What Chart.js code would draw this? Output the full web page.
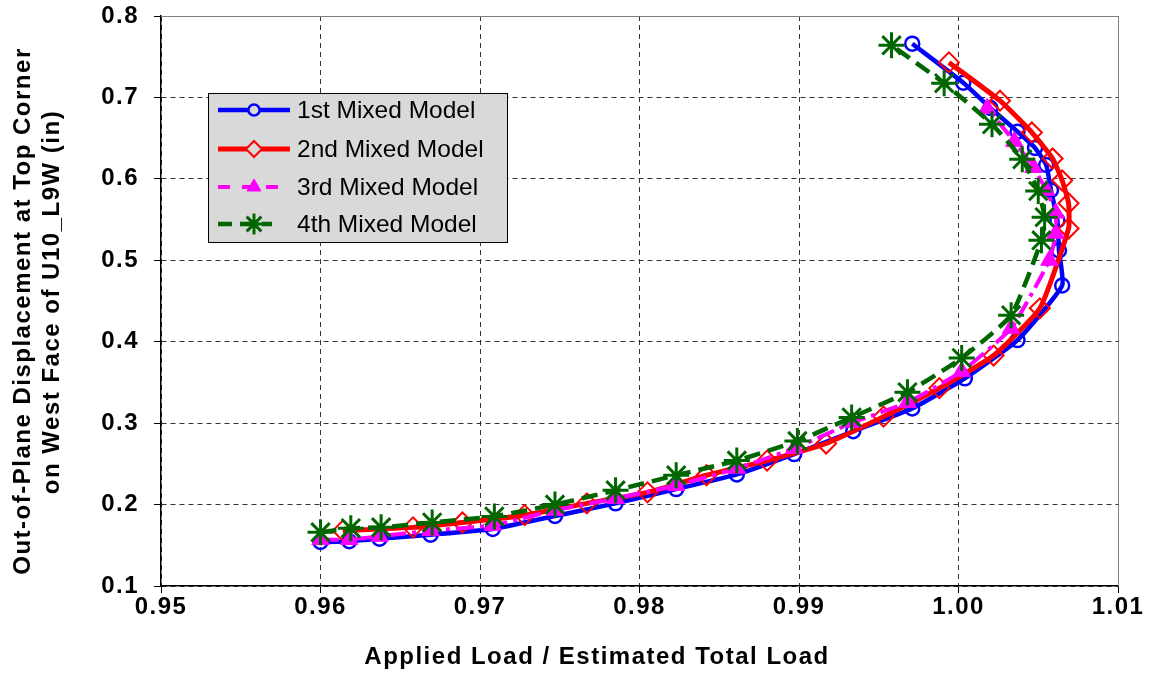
<!DOCTYPE html>
<html>
<head>
<meta charset="utf-8">
<script src="https://cdn.jsdelivr.net/npm/chart.js@4/dist/chart.umd.min.js"></script>
<style>
  html, body { margin: 0; padding: 0; background: #ffffff; }
  #wrap { width: 1149px; height: 676px; position: relative; }
</style>
</head>
<body>
<div id="wrap"><canvas id="chart" width="1149" height="676"></canvas></div>
<script>
// Applied load ratio (x) and out-of-plane displacement in inches (y) for each model
const model1Load = [0.9600, 0.9618, 0.9637, 0.9669, 0.9708, 0.9747, 0.9785, 0.9823, 0.9861, 0.9897, 0.9934, 0.9971, 1.0004, 1.0037, 1.0065, 1.0063, 1.0062, 1.0058, 1.0055, 1.0048, 1.0037, 1.0020, 1.0003, 0.9971];
const model1Disp = [0.154, 0.155, 0.158, 0.163, 0.170, 0.186, 0.2015, 0.219, 0.237, 0.262, 0.290, 0.318, 0.355, 0.402, 0.469, 0.512, 0.549, 0.586, 0.617, 0.638, 0.658, 0.687, 0.718, 0.766];

const model2Load = [0.9614, 0.9658, 0.9689, 0.9728, 0.9767, 0.9805, 0.9842, 0.9880, 0.9917, 0.9953, 0.9988, 1.0022, 1.0051, 1.0069, 1.0069, 1.0065, 1.0059, 1.0046, 1.0026, 0.9994];
const model2Disp = [0.168, 0.172, 0.178, 0.187, 0.2015, 0.215, 0.236, 0.254, 0.275, 0.308, 0.343, 0.383, 0.441, 0.539, 0.570, 0.598, 0.625, 0.657, 0.696, 0.743];

const model3Load = [0.9600, 0.9618, 0.9637, 0.9669, 0.9708, 0.9747, 0.9785, 0.9823, 0.9861, 0.9897, 0.9934, 0.9968, 1.0002, 1.0033, 1.0057, 1.0061, 1.0061, 1.0055, 1.0047, 1.0035, 1.0018];
const model3Disp = [0.157, 0.157, 0.161, 0.168, 0.1745, 0.193, 0.2075, 0.2235, 0.2445, 0.269, 0.301, 0.3255, 0.3635, 0.4165, 0.500, 0.533, 0.558, 0.586, 0.614, 0.646, 0.6865];

const model4Load = [0.9600, 0.9619, 0.9638, 0.9670, 0.9709, 0.9747, 0.9785, 0.9823, 0.9861, 0.9899, 0.9933, 0.9968, 1.0002, 1.0033, 1.0052, 1.0054, 1.0050, 1.0040, 1.0021, 0.9991, 0.9958];
const model4Disp = [0.166, 0.171, 0.172, 0.178, 0.1855, 0.200, 0.2175, 0.236, 0.254, 0.278, 0.307, 0.338, 0.380, 0.4325, 0.5245, 0.553, 0.585, 0.624, 0.667, 0.7175, 0.764];

const seriesNames = ['1st Mixed Model', '2nd Mixed Model', '3rd Mixed Model', '4th Mixed Model'];
const xTickValues = [0.95, 0.96, 0.97, 0.98, 0.99, 1.00, 1.01];
const yTickValues = [0.1, 0.2, 0.3, 0.4, 0.5, 0.6, 0.7, 0.8];
const xTitle = 'Applied Load / Estimated Total Load';
const yTitle = ['Out-of-Plane Displacement at Top Corner', 'on West Face of U10_L9W (in)'];

function pairs(xs, ys) { return xs.map((x, i) => ({ x: x, y: ys[i] })); }

const FONT = 'Liberation Sans, Arial, Helvetica, sans-serif';
const AXIS_FONT_SIZE = 24;
const SPACING = '1.5px';

const styles = [
  { color: '#0000FF', width: 4.5, dash: [], point: 'circle', radius: 7, pbw: 2.5, fill: 'rgba(0,0,0,0)' },
  { color: '#FF0000', width: 5, dash: [], point: 'rectRot', radius: 10, pbw: 2, fill: 'rgba(0,0,0,0)' },
  { color: '#FF00FF', width: 4, dash: [18, 6, 4, 6], point: 'triangle', radius: 10, pbw: 1, fill: '#FF00FF' },
  { color: '#006600', width: 4.5, dash: [16, 8], point: 'star', radius: 13, pbw: 3, fill: '#006600' }
];

const dataSets = [
  pairs(model1Load, model1Disp),
  pairs(model2Load, model2Disp),
  pairs(model3Load, model3Disp),
  pairs(model4Load, model4Disp)
];

const datasets = dataSets.map((d, i) => ({
  label: seriesNames[i],
  data: d,
  showLine: true,
  order: 4 - i,
  borderColor: styles[i].color,
  borderWidth: styles[i].width,
  borderDash: styles[i].dash,
  tension: 0.15,
  pointStyle: styles[i].point,
  pointRadius: styles[i].radius,
  pointBorderWidth: styles[i].pbw,
  pointBorderColor: styles[i].color,
  pointBackgroundColor: styles[i].fill
}));

// White background, plot-area frame, letter spacing and axis titles
const framePlugin = {
  id: 'frame',
  beforeDraw(chart) {
    const ctx = chart.ctx;
    ctx.save();
    ctx.fillStyle = '#ffffff';
    ctx.fillRect(0, 0, chart.width, chart.height);
    ctx.restore();
    ctx.letterSpacing = SPACING;
  },
  beforeDatasetsDraw(chart) {
    const a = chart.chartArea;
    const ctx = chart.ctx;
    ctx.save();
    ctx.strokeStyle = '#808080';
    ctx.lineWidth = 1;
    ctx.setLineDash([]);
    ctx.beginPath();
    ctx.moveTo(a.left, a.top + 0.5);
    ctx.lineTo(a.right + 0.5, a.top + 0.5);
    ctx.lineTo(a.right + 0.5, a.bottom);
    ctx.stroke();
    ctx.restore();
  },
  afterDraw(chart) {
    const ctx = chart.ctx;
    ctx.save();
    ctx.letterSpacing = SPACING;
    ctx.fillStyle = '#000000';
    ctx.font = 'bold ' + AXIS_FONT_SIZE + 'px ' + FONT;
    ctx.textAlign = 'center';
    ctx.textBaseline = 'middle';
    ctx.fillText(xTitle, 597, 657);
    const yTitlePos = [[23, 311], [52, 302]];
    yTitle.forEach((line, i) => {
      ctx.save();
      ctx.translate(yTitlePos[i][0], yTitlePos[i][1]);
      ctx.rotate(-Math.PI / 2);
      ctx.fillText(line, 0, 0);
      ctx.restore();
    });
    ctx.restore();
  }
};

// Boxed legend with line + marker samples
const legendPlugin = {
  id: 'boxLegend',
  afterDraw(chart) {
    const ctx = chart.ctx;
    ctx.save();
    ctx.letterSpacing = '0px';
    const bx = 208, by = 93, bw = 299, bh = 149;
    ctx.fillStyle = '#D9D9D9';
    ctx.fillRect(bx, by, bw, bh);
    ctx.strokeStyle = '#000000';
    ctx.lineWidth = 1;
    ctx.setLineDash([]);
    ctx.strokeRect(bx + 0.5, by + 0.5, bw, bh);
    const rowY = [110, 149, 187, 224];
    for (let i = 0; i < 4; i++) {
      const s = styles[i];
      const y = rowY[i];
      ctx.strokeStyle = s.color;
      ctx.lineWidth = s.width;
      ctx.setLineDash(i === 2 ? [12, 12] : (i === 3 ? [14, 8] : []));
      ctx.beginPath();
      ctx.moveTo(218, y);
      ctx.lineTo(i === 3 ? 272 : 290, y);
      ctx.stroke();
      ctx.setLineDash([]);
      ctx.fillStyle = s.fill === 'rgba(0,0,0,0)' ? '#D9D9D9' : s.fill;
      ctx.strokeStyle = s.color;
      ctx.lineWidth = s.pbw;
      Chart.helpers.drawPoint(ctx, {
        pointStyle: s.point,
        radius: s.radius * 0.8,
        borderWidth: s.pbw,
        rotation: 0
      }, 254, y);
      ctx.fillStyle = '#000000';
      ctx.font = '24.5px ' + FONT;
      ctx.textAlign = 'left';
      ctx.textBaseline = 'middle';
      ctx.fillText(seriesNames[i], 297, y + 1);
    }
    ctx.restore();
  }
};

const gridCommon = {
  display: true,
  drawOnChartArea: true,
  drawTicks: true,
  color: '#333333',
  lineWidth: 1,
  tickLength: 7,
  tickColor: '#000000',
  tickWidth: 1,
  tickBorderDash: []
};
const borderCommon = { display: true, color: '#000000', width: 1.5, dash: [5, 4] };

new Chart(document.getElementById('chart'), {
  type: 'scatter',
  data: { datasets: datasets },
  options: {
    responsive: false,
    animation: false,
    devicePixelRatio: 1,
    layout: { padding: { top: 16, right: 31, left: 0, bottom: 0 } },
    plugins: {
      legend: { display: false },
      tooltip: { enabled: false },
      title: { display: false }
    },
    scales: {
      x: {
        type: 'linear',
        min: xTickValues[0],
        max: xTickValues[xTickValues.length - 1],
        afterBuildTicks(scale) { scale.ticks = xTickValues.map(v => ({ value: v })); },
        afterFit(scale) {
          scale.height = 90;
          scale.paddingLeft = 0; scale.paddingRight = 0;
        },
        ticks: {
          color: '#000000',
          font: { family: FONT, size: AXIS_FONT_SIZE, weight: 'bold' },
          padding: 0,
          maxRotation: 0,
          callback: v => Number(v).toFixed(2)
        },
        grid: gridCommon,
        border: borderCommon,
        title: { display: false }
      },
      y: {
        type: 'linear',
        min: yTickValues[0],
        max: yTickValues[yTickValues.length - 1],
        afterBuildTicks(scale) { scale.ticks = yTickValues.map(v => ({ value: v })); },
        afterFit(scale) {
          scale.width = 161;
          scale.paddingTop = 0; scale.paddingBottom = 0;
        },
        ticks: {
          color: '#000000',
          font: { family: FONT, size: AXIS_FONT_SIZE, weight: 'bold' },
          padding: 15,
          callback: v => Number(v).toFixed(1)
        },
        grid: gridCommon,
        border: borderCommon,
        title: { display: false }
      }
    }
  },
  plugins: [framePlugin, legendPlugin]
});
</script>
</body>
</html>
